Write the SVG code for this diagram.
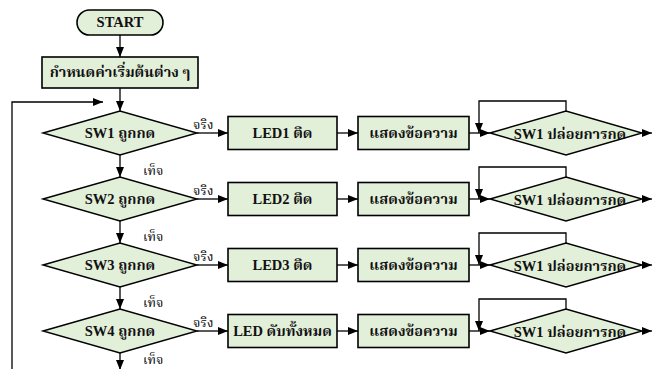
<svg xmlns="http://www.w3.org/2000/svg" width="652" height="369" viewBox="0 0 652 369">
<style>
.n{fill:#E2EFD9;stroke:#000;stroke-width:1.6}
.d{fill:#E2EFD9;stroke:#000;stroke-width:1.4}
.c{fill:none;stroke:#000;stroke-width:1.3}
.t{font-family:"Liberation Serif","Noto Serif Thai","Noto Sans Thai","DejaVu Serif",serif;font-weight:bold;font-size:14.5px;text-anchor:middle;fill:#111}
.l{font-family:"Liberation Serif","Noto Serif Thai","Noto Sans Thai","DejaVu Serif",serif;font-size:13px;fill:#000}
</style>
<defs>
<marker id="a" viewBox="0 0 10 8" refX="10" refY="4" markerWidth="10" markerHeight="8" markerUnits="userSpaceOnUse" orient="auto"><path d="M0,0L10,4L0,8z" fill="#000"/></marker>
</defs>
<g id="connectors" class="c" marker-end="url(#a)">
<path d="M120,35V57"/>
<path d="M120,88V111"/>
<path d="M12,369V102H103"/>
<path d="M120,155V177"/>
<path d="M120,221V243"/>
<path d="M120,287V309"/>
<path d="M120,353V370"/>
<path d="M197,133H228"/><path d="M337,133H358"/><path d="M469,133H490"/><path d="M566,111V101H479V133"/><path d="M642,133H652"/>
<path d="M197,199H228"/><path d="M337,199H358"/><path d="M469,199H490"/><path d="M566,177V167H479V199"/><path d="M642,199H652"/>
<path d="M197,265H228"/><path d="M337,265H358"/><path d="M469,265H490"/><path d="M566,243V233H479V265"/><path d="M642,265H652"/>
<path d="M197,331H228"/><path d="M337,331H358"/><path d="M469,331H490"/><path d="M566,309V299H479V331"/><path d="M642,331H652"/>
</g>
<g id="labels" class="l">
<text x="193" y="129">จริง</text><text x="143" y="175">เท็จ</text>
<text x="193" y="195">จริง</text><text x="143" y="241">เท็จ</text>
<text x="193" y="261">จริง</text><text x="143" y="307">เท็จ</text>
<text x="193" y="327">จริง</text><text x="143" y="364">เท็จ</text>
</g>
<g id="start"><rect class="n" x="77" y="10" width="86" height="25" rx="12.5"/><text class="t" x="120" y="27">START</text></g>
<g id="init"><rect class="n" x="42" y="57" width="156" height="31"/><text class="t" x="120" y="77">กำหนดค่าเริ่มต้นต่าง ๆ</text></g>
<g id="sw1"><polygon class="d" points="43,133 120,111 197,133 120,155"/><text class="t" x="120" y="138">SW1 ถูกกด</text></g>
<g id="led1"><rect class="n" x="228" y="116.5" width="109" height="33"/><text class="t" x="282.5" y="138">LED1 ติด</text></g>
<g id="msg1"><rect class="n" x="358" y="116.5" width="111" height="33"/><text class="t" x="413.5" y="138">แสดงข้อความ</text></g>
<g id="rel1"><polygon class="d" points="490,133 566,111 642,133 566,155"/><text class="t" x="570" y="139">SW1 ปล่อยการกด</text></g>
<g id="sw2"><polygon class="d" points="43,199 120,177 197,199 120,221"/><text class="t" x="120" y="204">SW2 ถูกกด</text></g>
<g id="led2"><rect class="n" x="228" y="182.5" width="109" height="33"/><text class="t" x="282.5" y="204">LED2 ติด</text></g>
<g id="msg2"><rect class="n" x="358" y="182.5" width="111" height="33"/><text class="t" x="413.5" y="204">แสดงข้อความ</text></g>
<g id="rel2"><polygon class="d" points="490,199 566,177 642,199 566,221"/><text class="t" x="570" y="205">SW1 ปล่อยการกด</text></g>
<g id="sw3"><polygon class="d" points="43,265 120,243 197,265 120,287"/><text class="t" x="120" y="270">SW3 ถูกกด</text></g>
<g id="led3"><rect class="n" x="228" y="248.5" width="109" height="33"/><text class="t" x="282.5" y="270">LED3 ติด</text></g>
<g id="msg3"><rect class="n" x="358" y="248.5" width="111" height="33"/><text class="t" x="413.5" y="270">แสดงข้อความ</text></g>
<g id="rel3"><polygon class="d" points="490,265 566,243 642,265 566,287"/><text class="t" x="570" y="271">SW1 ปล่อยการกด</text></g>
<g id="sw4"><polygon class="d" points="43,331 120,309 197,331 120,353"/><text class="t" x="120" y="336">SW4 ถูกกด</text></g>
<g id="led4"><rect class="n" x="228" y="314.5" width="109" height="33"/><text class="t" x="282.5" y="336">LED ดับทั้งหมด</text></g>
<g id="msg4"><rect class="n" x="358" y="314.5" width="111" height="33"/><text class="t" x="413.5" y="336">แสดงข้อความ</text></g>
<g id="rel4"><polygon class="d" points="490,331 566,309 642,331 566,353"/><text class="t" x="570" y="337">SW1 ปล่อยการกด</text></g>
</svg>
